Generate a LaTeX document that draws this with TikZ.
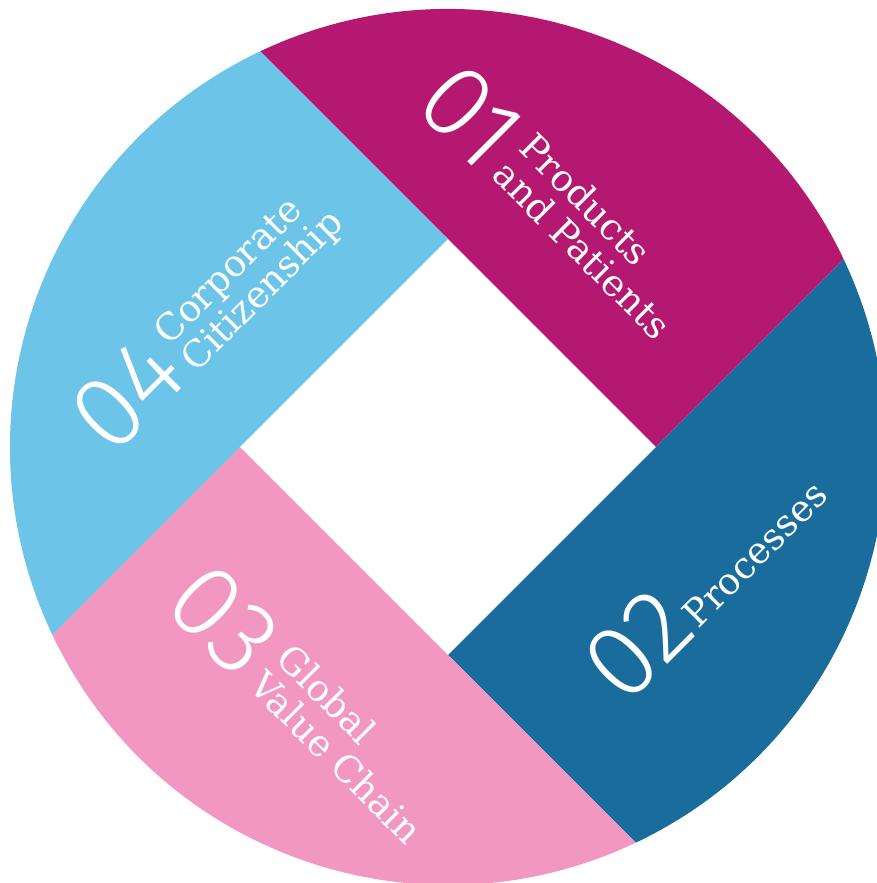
\documentclass[tikz,border=0pt]{standalone}
\usepackage{fontspec}
\setmainfont{DejaVu Serif}
\newfontfamily\digitfont{Fira Sans Light}
\usepackage{tikz}
\usetikzlibrary{positioning,calc}
\definecolor{segMagenta}{RGB}{181,24,112}
\definecolor{segBlue}{RGB}{26,108,156}
\definecolor{segPink}{RGB}{242,151,193}
\definecolor{segSky}{RGB}{108,196,233}

\begin{document}
\begin{tikzpicture}[x=1pt, y=1pt,
  seg/.style={draw=none},
  num/.style={font=\digitfont\fontsize{104}{104}\selectfont, text=white, inner sep=0pt},
  lbl/.style={font=\fontsize{37}{38}\selectfont, text=white, align=left, inner sep=0pt}
]
\useasboundingbox (-448,-436) rectangle (429,447);

% Corners of the open square in the middle
\coordinate (sqN) at (0,208);
\coordinate (sqE) at (208,0);
\coordinate (sqS) at (0,-208);
\coordinate (sqW) at (-208,0);

% Four segments of the disc
\fill[seg, segMagenta] (sqN) -- (sqE) -- (25.4:438) arc[start angle=25.4, end angle=115.4, radius=438] -- cycle;
\fill[seg, segBlue] (sqE) -- (sqS) -- (-64.6:438) arc[start angle=-64.6, end angle=25.4, radius=438] -- cycle;
\fill[seg, segPink] (sqS) -- (sqW) -- (-154.6:438) arc[start angle=-154.6, end angle=-64.6, radius=438] -- cycle;
\fill[seg, segSky] (sqW) -- (sqN) -- (115.4:438) arc[start angle=115.4, end angle=205.4, radius=438] -- cycle;

% 01
\node[num, rotate=-45] (n01) at (23,331) {01};
\node[lbl, rotate=-45] (t01) at (148,211) {Products\\and Patients};

% 02
\node[num, rotate=45] (n02) at (190,-198) {02};
\node[lbl, rotate=45] (t02) at (307,-107) {Processes};

% 03
\node[num, rotate=-45] (n03) at (-224,-173) {03};
\node[lbl, rotate=-45] (t03) at (-98,-297) {Global\\Value Chain};

% 04
\node[num, rotate=45] (n04) at (-321,53) {04};
\node[lbl, rotate=45] (t04) at (-198,168) {Corporate\\Citizenship};

\end{tikzpicture}
\end{document}
